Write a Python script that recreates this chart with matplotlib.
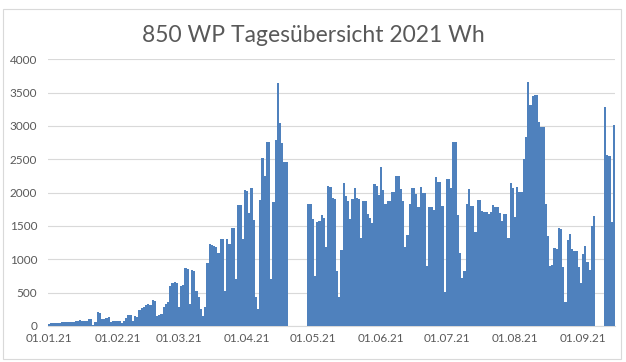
import matplotlib
matplotlib.use("Agg")
import matplotlib.pyplot as plt
from matplotlib.patches import Rectangle
import numpy as np

title = "850 WP Tagesübersicht 2021 Wh"
month_labels = ["01.01.21", "01.02.21", "01.03.21", "01.04.21", "01.05.21",
                "01.06.21", "01.07.21", "01.08.21", "01.09.21"]

jan = [30, 45, 45, 50, 50, 50, 55, 55, 60, 60, 60, 65, 70, 80, 85, 80, 75, 80, 100, 100,
       15, 55, 215, 200, 100, 110, 120, 130, 60, 80, 80]
feb = [80, 75, 40, 80, 120, 160, 170, 70, 150, 130, 240, 270, 290, 320, 330, 320, 390, 380,
       150, 170, 180, 280, 330, 360, 600, 640, 660, 650]
mar = [280, 600, 610, 865, 860, 330, 840, 820, 520, 440, 250, 150, 290, 950, 1230, 1220,
       1200, 1180, 1100, 1300, 1300, 520, 1300, 1230, 1465, 1470, 700, 1815, 1810, 1300, 2040]
apr = [2030, 1700, 2065, 1590, 440, 250, 1890, 2515, 2250, 2765, 2760, 700, 1865, 2790,
       3650, 3050, 2740, 2465, 2460, None, None, None, None, None, None, None, None, None,
       1830, 1830]
may = [1610, 750, 1565, 1570, 1665, 1615, 1180, 2100, 2090, 1915, 1910, 830, 430, 1140,
       2140, 1950, 1875, 1600, 1900, 2065, 1915, 1910, 1315, 1875, 1870, 1680, 1620, 1550,
       2125, 2100, 1965]
jun = [2380, 2040, 1830, 1880, 1880, 2015, 2015, 2250, 2250, 2050, 1880, 1190, 1365, 1830,
       2065, 2065, 1980, 1780, 2080, 2000, 2000, 900, 1790, 1790, 1740, 2240, 2165, 2165,
       1800, 515]
jul = [2200, 2200, 2065, 2765, 2760, 1665, 1090, 715, 830, 1830, 2050, 1800, 1800, 1415,
       1890, 1890, 1730, 1715, 1705, 1680, 1715, 1815, 1790, 1780, 1700, 1580, 1680, 1680,
       1315, 2150, 2065]
aug = [1640, 2080, 2015, 2015, 2500, 2840, 3665, 3315, 3450, 3465, 3465, 3065, 2990, 2990,
       1830, 1355, 900, 910, 1165, 1160, 1465, 1460, 880, 365, 1290, 1380, 1155, 1130, 1130,
       880, 640]
sep = [1080, 1200, 965, 840, 1500, 1650, None, None, None, None, 3280, 2560, 2550, 1565, 3015]

months = [jan, feb, mar, apr, may, jun, jul, aug, sep]
values = np.array([np.nan if v is None else v for m in months for v in m], dtype=float)
days = np.arange(len(values))
month_starts = np.cumsum([0] + [len(m) for m in months[:-1]])

plt.rcParams['font.family'] = ['Lato', 'DejaVu Sans']

W, H = 626, 362
fig = plt.figure(figsize=(W / 100, H / 100), dpi=100)
fig.patches.append(Rectangle((3 / W, 3 / H), 618 / W, 350 / H, transform=fig.transFigure,
                             fill=False, edgecolor='#D9D9D9', linewidth=0.8))

ax = fig.add_axes([48.3 / W, (H - 326) / H, (615 - 48.3) / W, (326 - 59.3) / H])
mask = ~np.isnan(values)
ax.bar(days[mask], values[mask], width=1.0, color='#4F81BD', linewidth=0, zorder=3)

ax.set_xlim(-0.5, len(values) - 0.5)
ax.set_ylim(0, 4000)
ax.set_yticks(np.arange(0, 4001, 500))
ax.set_xticks(month_starts)
ax.set_xticklabels(month_labels)
ax.grid(axis='y', color='#D9D9D9', linewidth=0.8, zorder=0)
for s in ['top', 'right', 'left']:
    ax.spines[s].set_visible(False)
ax.spines['bottom'].set_color('#D9D9D9')
ax.tick_params(axis='both', length=0, colors='#595959', labelsize=8.5)
ax.tick_params(axis='y', pad=8)
ax.tick_params(axis='x', pad=5)

fig.text(0.5, (H - 36) / H, title, ha='center', va='center', fontsize=16.5, color='#595959')

fig.savefig("out.png", dpi=100)
